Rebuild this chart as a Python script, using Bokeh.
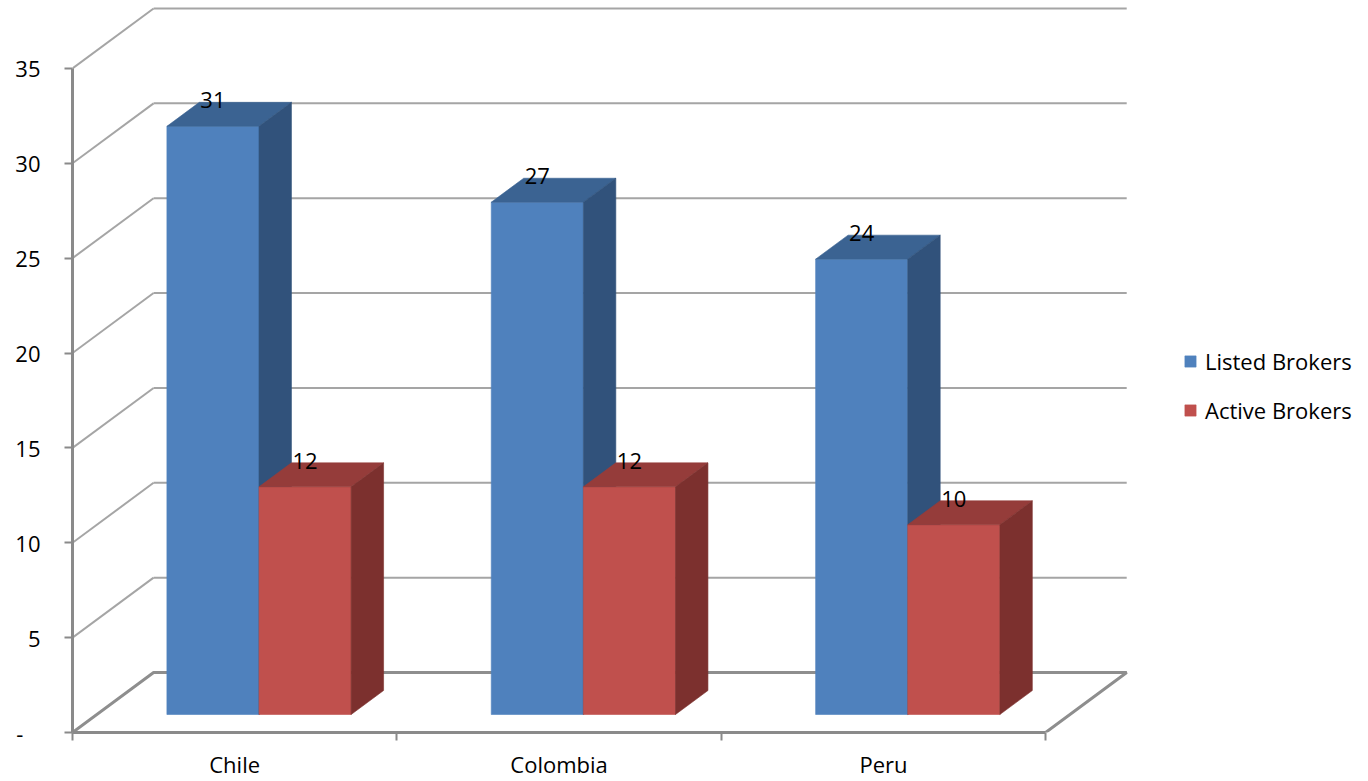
from bokeh.plotting import figure
from bokeh.models import Range1d, FixedTicker, Legend, LegendItem
from bokeh.core.properties import value
from bokeh.embed import file_html
from bokeh.resources import INLINE

categories = ["Chile", "Colombia", "Peru"]
listed_brokers = [31, 27, 24]
active_brokers = [12, 12, 10]
y_ticks = [0, 5, 10, 15, 20, 25, 30, 35]

series_names = ["Listed Brokers", "Active Brokers"]
# (front, top, side) face colours for each series
series_colors = [
    ("#4F81BD", "#3B6392", "#31527B"),
    ("#C0504D", "#953C3A", "#7C302E"),
]

FONT = "Open Sans"
FONT_SIZE = "22px"

# Oblique projection of the depth axis: one unit of depth moves a point
# DEPTH_DX categories to the right and DEPTH_DY value units up.
DEPTH_DX = 0.25
DEPTH_DY = 3.16
BAR_W = 0.284
Z_FRONT, Z_BACK = 0.3, 0.7


def proj(x, y, z):
    return x + z * DEPTH_DX, y + z * DEPTH_DY


n_cat = len(categories)
y_max = y_ticks[-1]

p = figure(
    width=1368, height=781,
    x_range=Range1d(0, 3.98), y_range=Range1d(0, 38.316),
    output_backend="svg", toolbar_location=None,
    min_border_left=72, min_border_right=5, min_border_top=5, min_border_bottom=48,
)
p.outline_line_color = None
p.xgrid.visible = False
p.ygrid.visible = False
p.background_fill_color = "white"
p.border_fill_color = "white"

# --- walls and floor -------------------------------------------------------
grid_color = "#A5A5A5"
floor_color = "#8E8E8E"

back_xs, back_ys, side_xs, side_ys = [], [], [], []
for v in y_ticks:
    if v == 0:
        continue
    x0, y0 = proj(0, v, 1)
    x1, y1 = proj(n_cat, v, 1)
    back_xs.append([x0, x1]); back_ys.append([y0, y1])
    a = proj(0, v, 0)
    side_xs.append([a[0], x0]); side_ys.append([a[1], y0])
p.multi_line(back_xs, back_ys, line_color=grid_color, line_width=2)
p.multi_line(side_xs, side_ys, line_color=grid_color, line_width=2)

# floor outline (left, back, right edges; the front edge is the x axis)
f_pts = [proj(0, 0, 0), proj(0, 0, 1), proj(n_cat, 0, 1), proj(n_cat, 0, 0)]
p.line([q[0] for q in f_pts], [q[1] for q in f_pts], line_color=floor_color, line_width=3)

# --- 3D bars ---------------------------------------------------------------
legend_items = []
for s, (vals, colors) in enumerate(zip([listed_brokers, active_brokers], series_colors)):
    fx, fy, tx, ty, sx, sy = [], [], [], [], [], []
    lx, ly, lt = [], [], []
    for i, v in enumerate(vals):
        xl = i + 0.5 - BAR_W + s * BAR_W
        xr = xl + BAR_W
        front = [proj(xl, 0, Z_FRONT), proj(xr, 0, Z_FRONT), proj(xr, v, Z_FRONT), proj(xl, v, Z_FRONT)]
        top = [proj(xl, v, Z_FRONT), proj(xr, v, Z_FRONT), proj(xr, v, Z_BACK), proj(xl, v, Z_BACK)]
        side = [proj(xr, 0, Z_FRONT), proj(xr, 0, Z_BACK), proj(xr, v, Z_BACK), proj(xr, v, Z_FRONT)]
        fx.append([q[0] for q in front]); fy.append([q[1] for q in front])
        tx.append([q[0] for q in top]); ty.append([q[1] for q in top])
        sx.append([q[0] for q in side]); sy.append([q[1] for q in side])
        cx = (xl + xr) / 2 + Z_FRONT * DEPTH_DX
        lx.append(cx)
        ly.append(v + Z_BACK * DEPTH_DY + 0.1)
        lt.append(str(v))
    r_front = p.patches(fx, fy, fill_color=colors[0], line_color=colors[0], line_width=0.6)
    p.patches(tx, ty, fill_color=colors[1], line_color=colors[1], line_width=0.6)
    p.patches(sx, sy, fill_color=colors[2], line_color=colors[2], line_width=0.6)
    p.text(x=lx, y=ly, text=lt, text_font=value(FONT), text_font_size=value(FONT_SIZE),
           text_color="black", text_align="center", text_baseline="alphabetic")
    legend_items.append(LegendItem(label=series_names[s], renderers=[r_front]))

# --- axes ------------------------------------------------------------------
axis_color = "#8A8A8A"

yax = p.yaxis[0]
yax.ticker = FixedTicker(ticks=y_ticks, minor_ticks=[])
yax.bounds = (0, y_max)
yax.major_label_overrides = {0: "-\u00a0\u00a0\u00a0"}
yax.axis_line_color = axis_color
yax.axis_line_width = 3
yax.major_tick_line_color = axis_color
yax.major_tick_line_width = 2
yax.major_tick_out = 8
yax.major_tick_in = 0
yax.major_label_standoff = 24
yax.major_label_text_font = FONT
yax.major_label_text_font_size = FONT_SIZE
yax.major_label_text_color = "black"

xax = p.xaxis[0]
xax.ticker = FixedTicker(ticks=[i + 0.5 for i in range(n_cat)],
                         minor_ticks=list(range(n_cat + 1)))
xax.bounds = (0, n_cat)
xax.major_label_overrides = {i + 0.5: c for i, c in enumerate(categories)}
xax.axis_line_color = axis_color
xax.axis_line_width = 3
xax.major_tick_line_color = None
xax.major_tick_out = 0
xax.major_tick_in = 0
xax.minor_tick_line_color = axis_color
xax.minor_tick_line_width = 2
xax.minor_tick_out = 8
xax.minor_tick_in = 0
xax.major_label_standoff = 8
xax.major_label_text_font = FONT
xax.major_label_text_font_size = FONT_SIZE
xax.major_label_text_color = "black"

legend = Legend(items=legend_items, location=(1111, 307), padding=0, margin=0,
                spacing=19, glyph_width=14, glyph_height=14, label_standoff=8,
                label_text_font=FONT, label_text_font_size=FONT_SIZE,
                label_text_color="black",
                border_line_alpha=0, background_fill_alpha=0)
p.add_layout(legend)

open("out.html", "w").write(file_html(p, INLINE))
